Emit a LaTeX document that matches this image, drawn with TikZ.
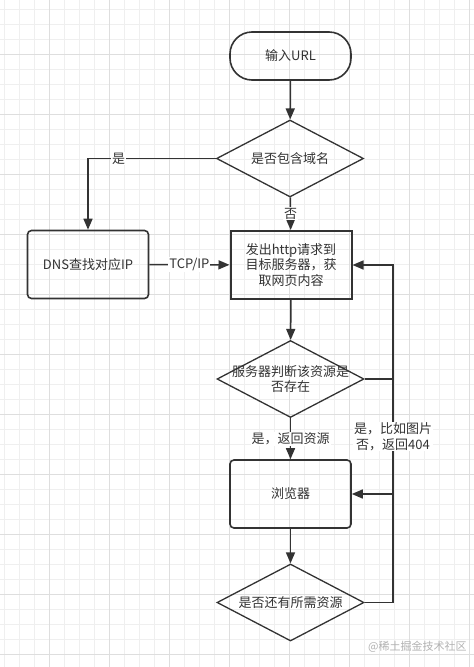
\documentclass[tikz,border=0pt]{standalone}
\usepackage{fontspec}
\setmainfont{Noto Sans CJK SC}
\usetikzlibrary{arrows.meta,shapes.geometric}
\definecolor{ink}{HTML}{333333}
\definecolor{gridminor}{HTML}{EFEFEF}
\definecolor{gridmajor}{HTML}{DEDEDE}
\begin{document}
\begin{tikzpicture}[x=1pt,y=-1pt,
  txt/.style={text=ink, font=\fontsize{13}{15.5}\selectfont, align=center, inner sep=1pt},
  line/.style={draw=ink, line width=1.5pt},
  arr/.style={line, -{Triangle[length=11pt,width=9pt]}},
  box/.style={txt, draw=ink, line width=1.6pt, rounded corners=4pt, minimum width=121pt, minimum height=68pt, inner sep=0pt},
  sharpbox/.style={box, rounded corners=0pt, line width=2pt},
  startbox/.style={box, minimum height=48pt, rounded corners=22pt},
  dia/.style={diamond, draw=ink, line width=1.3pt, minimum width=147pt, minimum height=77pt, inner sep=0pt},
  lbl/.style={txt, fill=white, inner sep=1pt}
]
\fill[white] (0,0) rectangle (474,667);
\useasboundingbox (0,0) rectangle (474,667);
% grid
\foreach \i in {0,...,31} {
  \pgfmathsetmacro{\gx}{4.3+15*\i}
  \draw[gridminor, line width=0.8pt] (\gx,0) -- (\gx,667);
}
\foreach \i in {0,...,44} {
  \pgfmathsetmacro{\gy}{9.3+15*\i}
  \draw[gridminor, line width=0.8pt] (0,\gy) -- (474,\gy);
}
\foreach \i in {0,...,7} {
  \pgfmathsetmacro{\gx}{49.3+60*\i}
  \draw[gridmajor, line width=0.8pt] (\gx,0) -- (\gx,667);
}
\foreach \i in {0,...,10} {
  \pgfmathsetmacro{\gy}{54.3+60*\i}
  \draw[gridmajor, line width=0.8pt] (0,\gy) -- (474,\gy);
}
% nodes
\node[startbox] (start) at (290.5,56) {输入URL};
\node[dia, label={[txt]center:是否包含域名}] (d1) at (290,158.5) {};
\node[box] (dns) at (88,264.5) {DNS查找对应IP};
\node[sharpbox] (http) at (291,265) {发出http请求到\\目标服务器，获\\取网页内容};
\node[dia, label={[txt]center:服务器判断该资源是\\否存在}] (d2) at (290.5,379) {};
\node[box] (browser) at (290.5,494) {浏览器};
\node[dia, label={[txt]center:是否还有所需资源}] (d3) at (290.5,602.5) {};
\coordinate (rail) at (393,0);
% connectors
\draw[arr] (start) -- (d1);
\draw[arr] (d1.west) -| node[lbl, pos=0.38]{是} (dns.north);
\draw[arr] (d1) -- node[lbl]{否} (http);
\draw[arr] (dns) -- node[lbl]{TCP/IP} (http);
\draw[arr] (http) -- (d2);
\draw[arr] (d2) -- node[lbl]{是，返回资源} (browser);
\draw[arr] (browser) -- (d3);
\draw[arr] (d3.east) -- (d3.east -| rail) |- (http.east);
\draw[arr] (d2.east) -- (d2.east -| rail) |- node[lbl, pos=0.25]{是，比如图片\\否，返回404} (browser.east);
% watermark
\node[anchor=west, text=black!30, font=\fontsize{11}{13}\selectfont, inner sep=0pt] (wm) at (368,647) {@稀土掘金技术社区};
\end{tikzpicture}
\end{document}
